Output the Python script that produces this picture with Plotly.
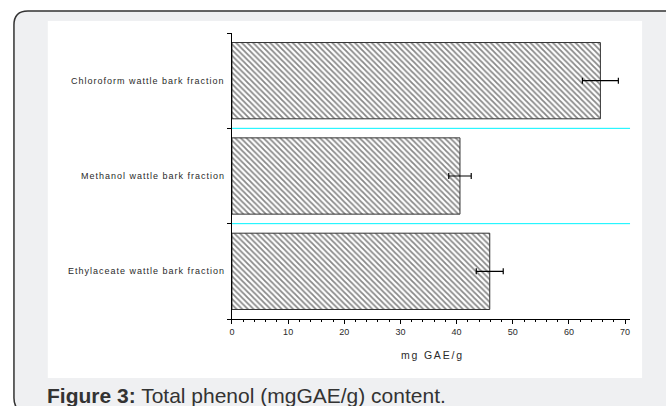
import plotly.graph_objects as go

# ---- data ----
categories = ["Ethylaceate wattle bark fraction",
              "Methanol wattle bark fraction",
              "Chloroform wattle bark fraction"]
values = [45.9, 40.6, 65.6]
errors = [2.4, 2.0, 3.2]
x_ticks = [0, 10, 20, 30, 40, 50, 60, 70]
x_title = "mg GAE/g"
caption_bold = "Figure 3:"
caption_text = " Total phenol (mgGAE/g) content."

W, H = 666, 406
def px(x):
    return x / W
def py(y):
    return 1 - y / H

FONT = "Liberation Sans, Arial, sans-serif"

fig = go.Figure()
fig.add_trace(go.Bar(
    x=values, y=list(range(len(categories))), orientation="h", width=0.8,
    marker=dict(color="white", line=dict(color="#333333", width=1),
                pattern=dict(shape="\\", size=4, solidity=0.45,
                             fgcolor="#111111", bgcolor="white")),
    error_x=dict(type="data", array=errors, visible=True,
                 color="black", thickness=1.2, width=3),
    showlegend=False, hoverinfo="skip"))

shapes = []
# outer rounded box
l, t, r, b, rad = 11, 11, 700, 412, 14
path = (f"M {px(l)},{py(t+rad)} Q {px(l)},{py(t)} {px(l+rad)},{py(t)} "
        f"L {px(r)},{py(t)} L {px(r)},{py(b)} L {px(l+rad)},{py(b)} "
        f"Q {px(l)},{py(b)} {px(l)},{py(b-rad)} Z")
shapes.append(dict(type="path", path=path, xref="paper", yref="paper",
                   fillcolor="#eff0f2", line=dict(color="#333333", width=1.5),
                   layer="below"))
# white image panel
shapes.append(dict(type="rect", xref="paper", yref="paper",
                   x0=px(45), x1=px(642), y0=py(378), y1=py(21),
                   fillcolor="white", line=dict(width=0), layer="below"))
# category separators
for yv in [0.5, 1.5]:
    shapes.append(dict(type="line", xref="x", yref="y", x0=0, x1=70.9,
                       y0=yv, y1=yv, line=dict(color="#00f4ff", width=1),
                       layer="below"))

annotations = []
for i, c in enumerate(categories):
    annotations.append(dict(
        text=f"<span style='letter-spacing:1.0px'>{c}</span>",
        x=px(225), xref="paper", xanchor="right",
        y=i, yref="y", yanchor="middle", showarrow=False,
        font=dict(family=FONT, size=9, color="#2a2a2a")))
annotations.append(dict(
    text=f"<span style='letter-spacing:1.8px'>{x_title}</span>",
    x=px(431), xref="paper", xanchor="center",
    y=py(355), yref="paper", yanchor="middle", showarrow=False,
    font=dict(family=FONT, size=10.5, color="#2a2a2a")))
annotations.append(dict(
    text=f"<b>{caption_bold}</b>{caption_text}",
    x=px(42), xref="paper", xanchor="left",
    y=py(395), yref="paper", yanchor="middle", showarrow=False,
    font=dict(family=FONT, size=21, color="#333333")))

fig.update_layout(
    width=W, height=H, margin=dict(l=0, r=0, t=0, b=0),
    paper_bgcolor="white", plot_bgcolor="white",
    shapes=shapes, annotations=annotations, bargap=0.2,
    xaxis=dict(range=[0, 70.9], domain=[px(230), px(630)],
               tickvals=x_ticks, ticks="outside", ticklen=4, tickcolor="black",
               tickfont=dict(family=FONT, size=9, color="#2a2a2a"),
               minor=dict(dtick=2, ticks="outside", ticklen=2, tickcolor="black"),
               showgrid=False, zeroline=False, showline=True,
               linecolor="black", linewidth=1),
    yaxis=dict(range=[-0.5, 2.5], domain=[py(319), py(33)],
               tickvals=[-0.5, 0.5, 1.5, 2.5], ticks="outside", ticklen=4,
               tickcolor="black", showticklabels=False, showgrid=False,
               zeroline=False, showline=True, linecolor="black", linewidth=1),
)

fig.write_html("out.html")
